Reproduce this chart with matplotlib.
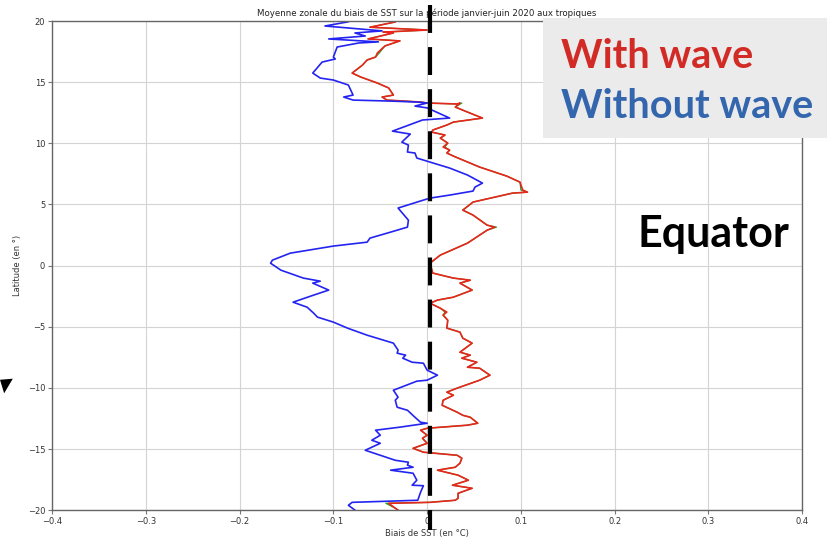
import matplotlib.pyplot as plt
from matplotlib.patches import Rectangle, Polygon

# Sans vague (blue), latitude / biais
lat_blue = [20.0, 19.93, 19.6, 19.2, 19.03, 18.78, 18.54, 18.3, 18.21, 17.88, 17.06, 16.9, 16.65,
            15.75, 15.34, 15.18, 14.77, 13.95, 13.79, 13.54, 13.46, 13.38, 13.3, 13.05, 12.9, 12.07,
            11.91, 11.0, 10.76, 10.1, 9.86, 9.29, 9.21, 8.8, 8.47, 7.98, 7.41, 6.75, 6.42, 6.1, 5.77,
            5.52, 5.36, 4.71, 3.72, 3.15, 2.74, 2.25, 1.92, 1.6, 1.02, 0.45, 0.2, -0.37, -1.02, -1.27,
            -1.43, -2.0, -2.41, -2.99, -3.4, -3.89, -4.21, -4.62, -5.11, -5.69, -6.34, -6.91, -7.16,
            -7.32, -7.57, -7.9, -7.98, -8.55, -8.96, -9.37, -9.45, -10.19, -10.76, -11.01, -11.58,
            -11.83, -12.4, -12.81, -12.89, -13.21, -13.46, -13.87, -14.28, -14.53, -15.1, -15.51,
            -15.92, -16.08, -16.32, -16.49, -16.73, -16.98, -17.55, -17.96, -18.0, -18.53, -19.19,
            -19.36, -19.6, -20.0]
sst_blue = [-0.082, -0.085, -0.109, -0.048, -0.077, -0.066, -0.105, -0.052, -0.073, -0.096, -0.100,
            -0.098, -0.112, -0.122, -0.114, -0.100, -0.084, -0.079, -0.089, -0.079, -0.040, -0.011,
            0.0, -0.013, 0.0, 0.024, -0.005, -0.037, -0.018, -0.027, -0.020, -0.021, -0.013, -0.011,
            0.003, 0.024, 0.043, 0.059, 0.051, 0.049, 0.024, 0.003, -0.004, -0.031, -0.020, -0.021,
            -0.039, -0.061, -0.064, -0.100, -0.146, -0.165, -0.167, -0.156, -0.132, -0.114, -0.122,
            -0.105, -0.121, -0.143, -0.128, -0.121, -0.117, -0.100, -0.085, -0.064, -0.036, -0.031,
            -0.032, -0.023, -0.026, -0.016, -0.004, 0.0, 0.011, 0.0, -0.011, -0.036, -0.031, -0.034,
            -0.032, -0.021, -0.013, -0.007, 0.0, -0.029, -0.055, -0.050, -0.059, -0.050, -0.066,
            -0.050, -0.034, -0.020, -0.021, -0.015, -0.039, -0.015, -0.011, -0.016, -0.004, -0.007,
            -0.010, -0.080, -0.084, -0.077]

# Avec vague (red), green run underneath almost identical
lat_red = [20.0, 19.93, 19.5, 19.27, 19.1, 19.03, 18.54, 18.38, 17.97, 17.4, 17.06, 16.82, 16.4,
           15.75, 15.43, 14.93, 14.53, 13.95, 13.79, 13.54, 13.38, 13.3, 13.22, 13.3, 12.97, 12.56,
           12.07, 11.74, 11.5, 11.09, 10.92, 10.68, 10.43, 10.02, 9.7, 9.45, 9.21, 8.96, 8.06, 7.32,
           6.83, 6.18, 6.01, 5.93, 5.2, 4.54, 4.13, 3.31, 3.15, 2.9, 1.84, 0.86, 0.2, -0.61, -1.02,
           -1.19, -1.43, -2.0, -2.58, -2.82, -3.07, -3.48, -3.8, -4.05, -4.46, -5.11, -5.44, -5.93,
           -6.34, -7.08, -7.32, -7.57, -7.9, -8.31, -8.39, -8.96, -9.37, -10.02, -10.35, -10.6,
           -11.01, -11.42, -11.99, -12.24, -12.4, -12.89, -13.05, -13.3, -13.46, -13.87, -14.12,
           -14.53, -14.94, -15.26, -15.51, -15.75, -16.16, -16.49, -16.73, -17.14, -17.55, -17.96,
           -18.21, -18.62, -19.03, -19.19, -19.36, -19.44, -19.84, -20.0]
sst_red = [-0.036, -0.034, -0.061, 0.0, -0.047, -0.036, -0.063, -0.029, -0.045, -0.053, -0.055,
           -0.064, -0.069, -0.080, -0.071, -0.053, -0.041, -0.036, -0.048, -0.043, -0.007, 0.0,
           0.032, 0.035, 0.030, 0.043, 0.059, 0.028, 0.021, 0.006, 0.005, 0.019, 0.014, 0.022,
           0.017, 0.024, 0.021, 0.028, 0.056, 0.085, 0.099, 0.102, 0.107, 0.091, 0.049, 0.038,
           0.049, 0.064, 0.072, 0.064, 0.043, 0.014, 0.003, 0.006, 0.028, 0.046, 0.035, 0.048,
           0.028, 0.011, 0.003, 0.014, 0.021, 0.017, 0.022, 0.021, 0.035, 0.038, 0.048, 0.035,
           0.046, 0.037, 0.053, 0.043, 0.056, 0.067, 0.056, 0.032, 0.021, 0.028, 0.017, 0.016,
           0.032, 0.038, 0.046, 0.054, 0.043, 0.0, -0.007, 0.0, -0.005, 0.0, -0.015, -0.004, 0.032,
           0.037, 0.035, 0.030, 0.011, 0.033, 0.044, 0.027, 0.048, 0.033, 0.033, 0.030, 0.003,
           -0.041, -0.034, -0.031]
green_diff = {23: 0.037, 41: 0.100, 48: 0.074, 9: -0.051, 62: 0.019, 107: -0.044, 34: 0.019}
sst_green = [green_diff.get(i, v) for i, v in enumerate(sst_red)]

fig = plt.figure(figsize=(8.27, 5.41), dpi=100)
ax = fig.add_axes([0.063, 0.057, 0.907, 0.904])

ax.plot(sst_green, lat_red, color='#22a022', lw=0.9)
ax.plot(sst_red, lat_red, color='#e8261c', lw=1.2)
ax.plot(sst_blue, lat_blue, color='#2424f0', lw=1.2)

ax.set_xlim(-0.4, 0.4)
ax.set_ylim(-20, 20)
ax.set_xticks([-0.4, -0.3, -0.2, -0.1, 0, 0.1, 0.2, 0.3, 0.4])
ax.set_xticklabels(['\u22120.4', '\u22120.3', '\u22120.2', '\u22120.1', '0', '0.1', '0.2', '0.3', '0.4'])
ax.set_yticks([-20, -15, -10, -5, 0, 5, 10, 15, 20])
ax.set_yticklabels(['\u221220', '\u221215', '\u221210', '\u22125', '0', '5', '10', '15', '20'])
ax.tick_params(labelsize=6, length=3, color='#777777', labelcolor='#333333', pad=2)
ax.grid(True, color='#d4d4d4', lw=0.8)
for s in ax.spines.values():
    s.set_color('#666666')
    s.set_linewidth(1.0)

ax.set_title('Moyenne zonale du biais de SST sur la période janvier-juin 2020 aux tropiques',
             fontsize=6.2, color='#222222', pad=4)
ax.set_xlabel('Biais de SST (en °C)', fontsize=6, color='#333333', labelpad=2)
ax.set_ylabel('Latitude (en °)', fontsize=6, color='#333333', labelpad=4)

# dashed zero line running past the frame
ax.plot([0.003, 0.003], [21.3, -21.6], color='black', lw=3, clip_on=False,
        linestyle=(0, (6.7, 3.4)), zorder=5)

# overlaid labels
fig.patches.append(Rectangle((0.657, 0.745), 0.343, 0.222, transform=fig.transFigure,
                             facecolor='#ebebeb', edgecolor='none', zorder=10))
fig.text(0.678, 0.874, 'With wave', fontsize=28.5, fontweight='bold', color='#d22b26',
         family='Lato', va='baseline', zorder=11)
fig.text(0.678, 0.782, 'Without wave', fontsize=28.5, fontweight='bold', color='#3466ae',
         family='Lato', va='baseline', zorder=11)
fig.text(0.771, 0.543, 'Equator', fontsize=31, fontweight='bold', color='black',
         family='Lato', va='baseline', zorder=11)
fig.patches.append(Polygon([(0.0, 0.298), (0.0155, 0.300), (0.005, 0.273)], closed=True,
                           transform=fig.transFigure, facecolor='black', edgecolor='none'))

plt.savefig('out.png', dpi=100)
